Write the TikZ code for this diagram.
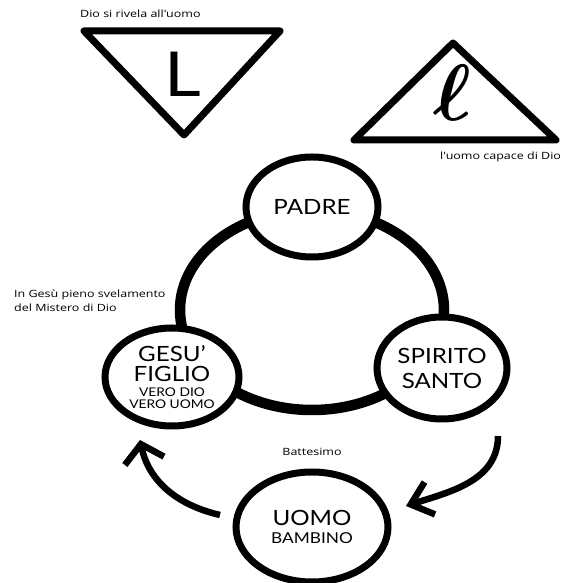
\documentclass[tikz,border=0pt]{standalone}
\usepackage{fontspec}
\setmainfont[FakeStretch=1.15]{Lato}
\newfontfamily\notefont[FakeStretch=1.25]{Open Sans}
\usetikzlibrary{shapes.geometric}
\usetikzlibrary{arrows.meta}

\tikzset{
    person/.style={ellipse, draw, line width=7pt, fill=white, inner sep=0pt, align=center},
    note/.style={font=\notefont\fontsize{10}{13}\selectfont, inner sep=0pt},
    turn/.style={line width=6.5pt, -{Straight Barb[length=17pt, width=40pt, line width=6.5pt]}}
}

\begin{document}
\begin{tikzpicture}[x=1pt, y=1pt]
    \useasboundingbox (0, 0) rectangle (562, 583);
    % the two triangles
    \draw [line width=7pt, line join=round] (84, 552) -- (280, 552) -- (184, 448) -- cycle;
    \node  (bigL) at (183, 509) {\fontsize{62}{62}\selectfont L};
    \draw [line width=7pt, line join=round] (354, 443) -- (556, 443) -- (453, 540) -- cycle;
    \node  (smallL) at (452, 490) {\scalebox{8}{\boldmath$\ell$}};
    \node [note, anchor=west] (rivela) at (80, 569) {Dio si rivela all'uomo};
    \node [note, anchor=west] (capace) at (440, 426) {l'uomo capace di Dio};
    % trinity ring
    \draw [line width=10.5pt] (312, 273) ellipse (132 and 100);
    \node [person, minimum width=132, minimum height=100,
           font=\fontsize{21}{24}\selectfont] (padre) at (312, 376) {PADRE};
    \node [person, minimum width=134, minimum height=98,
           font=\fontsize{21}{20}\selectfont] (gesu) at (172, 206)
        {GESU'\\FIGLIO\\[-5pt]{\fontsize{12}{12}\selectfont VERO DIO}\\[-8pt]
         {\fontsize{12}{12}\selectfont VERO UOMO}};
    \node [person, minimum width=130, minimum height=102,
           font=\fontsize{21}{25}\selectfont] (spirito) at (442, 215) {SPIRITO\\SANTO};
    \node [note, anchor=west] (svela) at (14, 288) {In Gesù pieno svelamento};
    \node [note, anchor=west] (mistero) at (14, 275) {del Mistero di Dio};
    % man and baptism
    \node [person, minimum width=152, minimum height=110,
           font=\fontsize{21}{20}\selectfont] (uomo) at (312, 56)
        {UOMO\\[-2pt]{\fontsize{15}{18}\selectfont BAMBINO}};
    \node [note] (battesimo) at (312, 131) {Battesimo};
    \coordinate (leftfrom) at (220, 68);
    \coordinate (leftto) at (140, 143);
    \coordinate (rightfrom) at (498, 147);
    \coordinate (rightto) at (406, 77);
    \draw [turn] (leftfrom) to[out=167, in=-78] (leftto);
    \draw [turn, -{Straight Barb[length=20pt, width=34pt, line width=6.5pt]}] (rightfrom) to[out=-90, in=18] (rightto);
\end{tikzpicture}
\end{document}
